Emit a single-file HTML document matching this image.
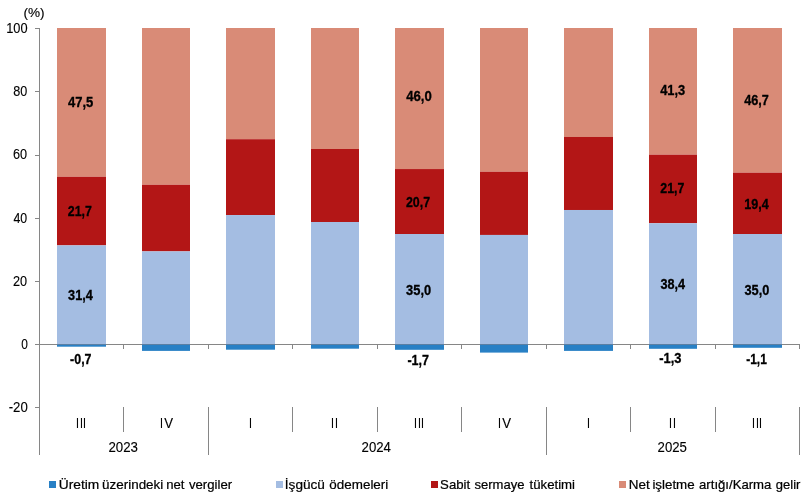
<!DOCTYPE html>
<html lang="tr"><head><meta charset="utf-8"><title>Grafik</title>
<style>html,body{margin:0;padding:0;background:#fff}body{width:809px;height:502px;overflow:hidden}</style></head>
<body>
<svg width="809" height="502" viewBox="0 0 809 502" style="display:block;font-kerning:none" font-family="'Liberation Sans', sans-serif" font-size="14.1px" fill="#000">
<rect width="809" height="502" fill="#fff"/>
<rect x="57.00" y="28" width="49" height="148.80" fill="#D98B77"/>
<rect x="57.00" y="176.80" width="49" height="68.57" fill="#B31616"/>
<rect x="57.00" y="245.38" width="49" height="99.02" fill="#A4BDE2"/>
<rect x="57.00" y="344.4" width="49" height="2.30" fill="#2880C5"/>
<rect x="142.00" y="28" width="48" height="156.80" fill="#D98B77"/>
<rect x="142.00" y="184.80" width="48" height="66.58" fill="#B31616"/>
<rect x="142.00" y="251.38" width="48" height="93.02" fill="#A4BDE2"/>
<rect x="142.00" y="344.4" width="48" height="6.50" fill="#2880C5"/>
<rect x="226.00" y="28" width="49" height="111.20" fill="#D98B77"/>
<rect x="226.00" y="139.20" width="49" height="75.84" fill="#B31616"/>
<rect x="226.00" y="215.04" width="49" height="129.36" fill="#A4BDE2"/>
<rect x="226.00" y="344.4" width="49" height="5.30" fill="#2880C5"/>
<rect x="311.00" y="28" width="48" height="121.00" fill="#D98B77"/>
<rect x="311.00" y="149.00" width="48" height="73.00" fill="#B31616"/>
<rect x="311.00" y="221.99" width="48" height="122.41" fill="#A4BDE2"/>
<rect x="311.00" y="344.4" width="48" height="4.30" fill="#2880C5"/>
<rect x="395.00" y="28" width="49" height="141.06" fill="#D98B77"/>
<rect x="395.00" y="169.06" width="49" height="64.94" fill="#B31616"/>
<rect x="395.00" y="234.00" width="49" height="110.40" fill="#A4BDE2"/>
<rect x="395.00" y="344.4" width="49" height="5.40" fill="#2880C5"/>
<rect x="480.00" y="28" width="48" height="143.75" fill="#D98B77"/>
<rect x="480.00" y="171.75" width="48" height="63.20" fill="#B31616"/>
<rect x="480.00" y="234.95" width="48" height="109.45" fill="#A4BDE2"/>
<rect x="480.00" y="344.4" width="48" height="8.20" fill="#2880C5"/>
<rect x="564.00" y="28" width="49" height="108.99" fill="#D98B77"/>
<rect x="564.00" y="136.99" width="49" height="73.00" fill="#B31616"/>
<rect x="564.00" y="209.98" width="49" height="134.42" fill="#A4BDE2"/>
<rect x="564.00" y="344.4" width="49" height="6.50" fill="#2880C5"/>
<rect x="649.00" y="28" width="48" height="126.68" fill="#D98B77"/>
<rect x="649.00" y="154.68" width="48" height="68.57" fill="#B31616"/>
<rect x="649.00" y="223.26" width="48" height="121.14" fill="#A4BDE2"/>
<rect x="649.00" y="344.4" width="48" height="4.40" fill="#2880C5"/>
<rect x="733.00" y="28" width="49" height="144.70" fill="#D98B77"/>
<rect x="733.00" y="172.70" width="49" height="61.30" fill="#B31616"/>
<rect x="733.00" y="234.00" width="49" height="110.40" fill="#A4BDE2"/>
<rect x="733.00" y="344.4" width="49" height="3.40" fill="#2880C5"/>
<g stroke="#868686" stroke-width="1" shape-rendering="crispEdges">
<line x1="39.5" y1="28" x2="39.5" y2="455"/>
<line x1="39" y1="344.5" x2="800" y2="344.5"/>
<line x1="35" y1="28.5" x2="40" y2="28.5"/>
<line x1="35" y1="91.5" x2="40" y2="91.5"/>
<line x1="35" y1="155.5" x2="40" y2="155.5"/>
<line x1="35" y1="218.5" x2="40" y2="218.5"/>
<line x1="35" y1="281.5" x2="40" y2="281.5"/>
<line x1="35" y1="344.5" x2="40" y2="344.5"/>
<line x1="35" y1="407.5" x2="40" y2="407.5"/>
<line x1="123.5" y1="344" x2="123.5" y2="349"/>
<line x1="208.5" y1="344" x2="208.5" y2="349"/>
<line x1="292.5" y1="344" x2="292.5" y2="349"/>
<line x1="377.5" y1="344" x2="377.5" y2="349"/>
<line x1="461.5" y1="344" x2="461.5" y2="349"/>
<line x1="546.5" y1="344" x2="546.5" y2="349"/>
<line x1="630.5" y1="344" x2="630.5" y2="349"/>
<line x1="715.5" y1="344" x2="715.5" y2="349"/>
<line x1="799.5" y1="344" x2="799.5" y2="349"/>
<line x1="123.5" y1="407" x2="123.5" y2="432"/>
<line x1="208.5" y1="407" x2="208.5" y2="455"/>
<line x1="292.5" y1="407" x2="292.5" y2="432"/>
<line x1="377.5" y1="407" x2="377.5" y2="432"/>
<line x1="461.5" y1="407" x2="461.5" y2="432"/>
<line x1="546.5" y1="407" x2="546.5" y2="455"/>
<line x1="630.5" y1="407" x2="630.5" y2="432"/>
<line x1="715.5" y1="407" x2="715.5" y2="432"/>
<line x1="799.5" y1="407" x2="799.5" y2="455"/>
</g>
<rect x="57" y="344" width="49" height="1" fill="#5B7FA3"/>
<rect x="142" y="344" width="48" height="1" fill="#5B7FA3"/>
<rect x="226" y="344" width="49" height="1" fill="#5B7FA3"/>
<rect x="311" y="344" width="48" height="1" fill="#5B7FA3"/>
<rect x="395" y="344" width="49" height="1" fill="#5B7FA3"/>
<rect x="480" y="344" width="48" height="1" fill="#5B7FA3"/>
<rect x="564" y="344" width="49" height="1" fill="#5B7FA3"/>
<rect x="649" y="344" width="48" height="1" fill="#5B7FA3"/>
<rect x="733" y="344" width="49" height="1" fill="#5B7FA3"/>
<g stroke="#000" stroke-width="0.12">
<text transform="translate(6.22 32.70) scale(0.9087 1)">100</text>
<text transform="translate(13.15 95.80) scale(0.8953 1)">80</text>
<text transform="translate(13.05 158.90) scale(0.9017 1)">60</text>
<text transform="translate(13.42 222.80) scale(0.8778 1)">40</text>
<text transform="translate(13.06 285.80) scale(0.9013 1)">20</text>
<text transform="translate(21.13 348.70) scale(0.8457 1)">0</text>
<text transform="translate(8.71 411.70) scale(0.9374 1)">-20</text>
<g font-size="13.4px">
<text transform="translate(23.46 16.80) scale(1.0168 1)">(%)</text>
</g>
<text transform="translate(0 427.9) scale(0.7605 1)" x="99.953 105.213 109.158">III</text>
<text transform="translate(0 427.9) scale(0.7605 1)" x="210.412">I</text>
<text transform="translate(164.34 427.90) scale(0.9374 1)">V</text>
<text transform="translate(0 427.9) scale(0.7605 1)" x="327.446">I</text>
<text transform="translate(0 427.9) scale(0.7605 1)" x="435.276 440.535">II</text>
<text transform="translate(0 427.9) scale(0.7605 1)" x="544.420 549.680 553.625">III</text>
<text transform="translate(0 427.9) scale(0.7605 1)" x="654.879">I</text>
<text transform="translate(502.34 427.90) scale(0.9374 1)">V</text>
<text transform="translate(0 427.9) scale(0.7605 1)" x="771.913">I</text>
<text transform="translate(0 427.9) scale(0.7605 1)" x="879.742 885.002">II</text>
<text transform="translate(0 427.9) scale(0.7605 1)" x="988.886 994.146 998.091">III</text>
<text transform="translate(108.43 451.80) scale(0.9421 1)">2023</text>
<text transform="translate(361.53 451.80) scale(0.9390 1)">2024</text>
<text transform="translate(657.53 451.80) scale(0.9379 1)">2025</text>
</g>
<g font-weight="bold" stroke="#000" stroke-width="0.3">
<text transform="translate(68.00 106.70) scale(0.9241 1)">47,5</text>
<text transform="translate(67.77 216.10) scale(0.8772 1)">21,7</text>
<text transform="translate(68.11 299.70) scale(0.9023 1)">31,4</text>
<text transform="translate(70.11 363.90) scale(0.8821 1)">-0,7</text>
<text transform="translate(406.20 101.10) scale(0.9343 1)">46,0</text>
<text transform="translate(405.97 206.90) scale(0.8772 1)">20,7</text>
<text transform="translate(406.10 294.70) scale(0.9118 1)">35,0</text>
<text transform="translate(407.41 364.70) scale(0.8908 1)">-1,7</text>
<text transform="translate(660.21 94.70) scale(0.9132 1)">41,3</text>
<text transform="translate(660.27 193.40) scale(0.8772 1)">21,7</text>
<text transform="translate(660.41 288.90) scale(0.8986 1)">38,4</text>
<text transform="translate(659.20 362.90) scale(0.9167 1)">-1,3</text>
<text transform="translate(744.21 104.70) scale(0.8982 1)">46,7</text>
<text transform="translate(744.31 208.70) scale(0.8951 1)">19,4</text>
<text transform="translate(744.41 294.70) scale(0.9080 1)">35,0</text>
<text transform="translate(746.23 363.90) scale(0.8479 1)">-1,1</text>
</g>
<rect x="49" y="481" width="7" height="7" fill="#2880C5"/>
<g font-size="13.4px" stroke="#000" stroke-width="0.22">
<text transform="translate(58.74 488.50) scale(1.0283 1)">Üretim </text>
<text transform="translate(102.09 488.50) scale(1.0023 1)">üzerindeki </text>
<text transform="translate(166.13 488.50) scale(0.9807 1)">net </text>
<text transform="translate(188.96 488.50) scale(0.9824 1)">vergiler</text>
</g>
<rect x="276" y="481" width="7" height="7" fill="#A4BDE2"/>
<g font-size="13.4px" stroke="#000" stroke-width="0.22">
<text transform="translate(284.84 488.50) scale(1.0162 1)">İşgücü </text>
<text transform="translate(329.34 488.50) scale(1.0022 1)">ödemeleri</text>
</g>
<rect x="431" y="481" width="7" height="7" fill="#B31616"/>
<g font-size="13.4px" stroke="#000" stroke-width="0.22">
<text transform="translate(440.10 488.50) scale(0.9854 1)">Sabit </text>
<text transform="translate(474.44 488.50) scale(0.9759 1)">sermaye </text>
<text transform="translate(529.50 488.50) scale(0.9875 1)">tüketimi</text>
</g>
<rect x="619" y="481" width="7" height="7" fill="#D98B77"/>
<g font-size="13.4px" stroke="#000" stroke-width="0.22">
<text transform="translate(628.69 488.50) scale(1.0074 1)">Net </text>
<text transform="translate(652.41 488.50) scale(0.9963 1)">işletme </text>
<text transform="translate(699.04 488.50) scale(0.9828 1)">artığı/Karma </text>
<text transform="translate(775.85 488.50) scale(0.9700 1)">gelir</text>
</g>
</svg>
</body></html>
